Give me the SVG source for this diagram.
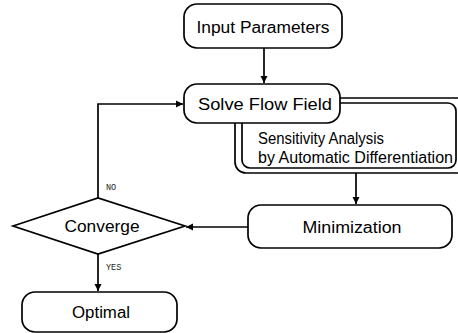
<svg xmlns="http://www.w3.org/2000/svg" width="458" height="333" viewBox="0 0 458 333">
<defs>
<marker id="arr" markerWidth="8" markerHeight="8" refX="7" refY="4" orient="auto" markerUnits="userSpaceOnUse">
<path d="M0,0.5 L7,4 L0,7.5 Z" fill="#000"/>
</marker>
<style>
.box{fill:#fff;stroke:#000;stroke-width:1.7}
.frame{fill:none;stroke:#000;stroke-width:1.7}
.t{font-family:"Liberation Sans",Arial,sans-serif;font-size:16px;fill:#000;text-anchor:middle;dominant-baseline:central}
.s{font-family:"Liberation Sans",Arial,sans-serif;font-size:16px;fill:#000}
.lbl{font-family:"Liberation Mono","Courier New",monospace;font-size:8.5px;fill:#222}
.c{fill:none;stroke:#000;stroke-width:1.7}
</style>
</defs>
<g id="connectors">
<path class="c" d="M264,48 V83" marker-end="url(#arr)"/>
<path class="c" d="M356,173 V204" marker-end="url(#arr)"/>
<path class="c" d="M248,227 H186" marker-end="url(#arr)"/>
<path class="c" d="M98,198 V104 H183" marker-end="url(#arr)"/>
<path class="c" d="M98,254 V291" marker-end="url(#arr)"/>
<text class="lbl" x="106" y="190">NO</text>
<text class="lbl" x="106" y="270">YES</text>
</g>
<g id="sensitivity">
<rect class="frame" x="235" y="98" width="240" height="75" rx="11"/>
<rect class="frame" x="242" y="103" width="214" height="65" rx="8"/>
<text class="s" x="258" y="144" textLength="126" lengthAdjust="spacingAndGlyphs">Sensitivity Analysis</text>
<text class="s" x="258" y="163" textLength="195" lengthAdjust="spacingAndGlyphs">by Automatic Differentiation</text>
</g>
<g id="input">
<rect class="box" x="184" y="4" width="158" height="44" rx="13"/>
<text class="t" x="263" y="27" textLength="133" lengthAdjust="spacingAndGlyphs">Input Parameters</text>
</g>
<g id="solve">
<rect class="box" x="184" y="84" width="156" height="39" rx="13"/>
<text class="t" x="265" y="104" textLength="134" lengthAdjust="spacingAndGlyphs">Solve Flow Field</text>
</g>
<g id="minimization">
<rect class="box" x="248" y="205" width="204" height="43" rx="13"/>
<text class="t" x="352" y="227" textLength="99" lengthAdjust="spacingAndGlyphs">Minimization</text>
</g>
<g id="converge">
<polygon class="box" points="13,226 98,198 185,226 98,254"/>
<text class="t" x="102" y="226" textLength="75" lengthAdjust="spacingAndGlyphs">Converge</text>
</g>
<g id="optimal">
<rect class="box" x="22" y="292" width="155" height="40" rx="13"/>
<text class="t" x="101" y="312" textLength="58" lengthAdjust="spacingAndGlyphs">Optimal</text>
</g>
</svg>
